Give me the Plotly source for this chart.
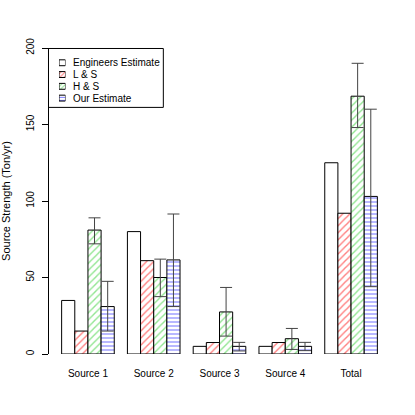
import plotly.graph_objects as go

categories = ["Source 1", "Source 2", "Source 3", "Source 4", "Total"]
series_names = ["Engineers Estimate", "L & S", "H & S", "Our Estimate"]

engineers = [35, 80, 5, 5, 125]
ls_values = [15, 61, 7.5, 7.5, 92]
hs_values = [81, 50, 27.5, 10, 168.5]
hs_lower = [72, 37.5, 11.7, 3, 148]
hs_upper = [89, 62, 43.5, 16.7, 190]
our_values = [31, 61.5, 5, 5, 103]
our_lower = [15, 31, 2, 2.2, 44]
our_upper = [47.5, 91.5, 7.6, 7.6, 160]

y_ticks = [0, 50, 100, 150, 200]

FONT = "Liberation Sans, Arial, sans-serif"
ERR = dict(type="data", symmetric=False, color="#444444", thickness=1, width=6)

pattern_shapes = ["", "/", "/", "-"]
pattern_colors = ["black", "red", "#22cc22", "blue"]
pattern_sizes = [5, 5, 5, 4]

fig = go.Figure()
series_values = [engineers, ls_values, hs_values, our_values]
errors = [None, None, (hs_lower, hs_upper), (our_lower, our_upper)]
for i, name in enumerate(series_names):
    vals = series_values[i]
    marker = dict(color="white", line=dict(color="black", width=1))
    if pattern_shapes[i]:
        marker["pattern"] = dict(shape=pattern_shapes[i], fgcolor=pattern_colors[i],
                                 bgcolor="white", size=pattern_sizes[i], solidity=0.28)
    kw = {}
    if errors[i] is not None:
        lo, up = errors[i]
        kw["error_y"] = dict(ERR, array=[u - v for u, v in zip(up, vals)],
                             arrayminus=[v - l for v, l in zip(vals, lo)])
    fig.add_bar(x=categories, y=vals, name=name, marker=marker, showlegend=False,
                hoverinfo="skip", **kw)

# legend drawn as a tiny bar chart of swatches
fig.add_bar(
    x=[1] * len(series_names), y=series_names, orientation="h", width=0.5,
    xaxis="x2", yaxis="y2", showlegend=False, hoverinfo="skip",
    marker=dict(color="white", line=dict(color="black", width=1),
                pattern=dict(shape=pattern_shapes, fgcolor=pattern_colors,
                             bgcolor="white", size=3, solidity=0.35)),
)
for name in series_names:
    fig.add_annotation(x=0.064, xref="paper", y=name, yref="y2", text=name,
                       showarrow=False, xanchor="left", yanchor="middle",
                       font=dict(size=10, color="black"))
fig.add_shape(type="rect", xref="paper", yref="paper", x0=-0.0015, x1=0.3353,
              y0=0.8059, y1=0.9984, line=dict(color="black", width=1))

fig.update_layout(
    width=415, height=415,
    margin=dict(l=48.5, r=25, t=47.5, b=61, autoexpand=False),
    paper_bgcolor="white", plot_bgcolor="white",
    font=dict(family=FONT, size=10, color="black"),
    barmode="group", bargap=0.2, bargroupgap=0,
    showlegend=False, hovermode=False,
    xaxis=dict(range=[-0.592, 4.592], showline=False, ticks="outside", ticklen=10,
               tickcolor="rgba(0,0,0,0)", showgrid=False, zeroline=False,
               tickfont=dict(size=10), automargin=False),
    yaxis=dict(range=[0, 200], tickvals=y_ticks, ticktext=[str(t) for t in y_ticks],
               showline=True, linecolor="black", linewidth=1,
               ticks="outside", ticklen=6, tickcolor="black", ticklabelstandoff=4,
               showgrid=False, zeroline=False, tickangle=-90, automargin=False,
               title=dict(text="Source Strength (Ton/yr)", font=dict(size=11), standoff=14)),
    xaxis2=dict(domain=[0.0293, 0.0483], range=[0, 1], visible=False, anchor="y2"),
    yaxis2=dict(domain=[0.8170, 0.9710], type="category", categoryarray=series_names,
                range=[3.5, -0.5], visible=False, anchor="x2"),
)

fig.write_html("out.html", config={"displayModeBar": False, "staticPlot": True},
               post_script="document.body.style.margin='0';")
